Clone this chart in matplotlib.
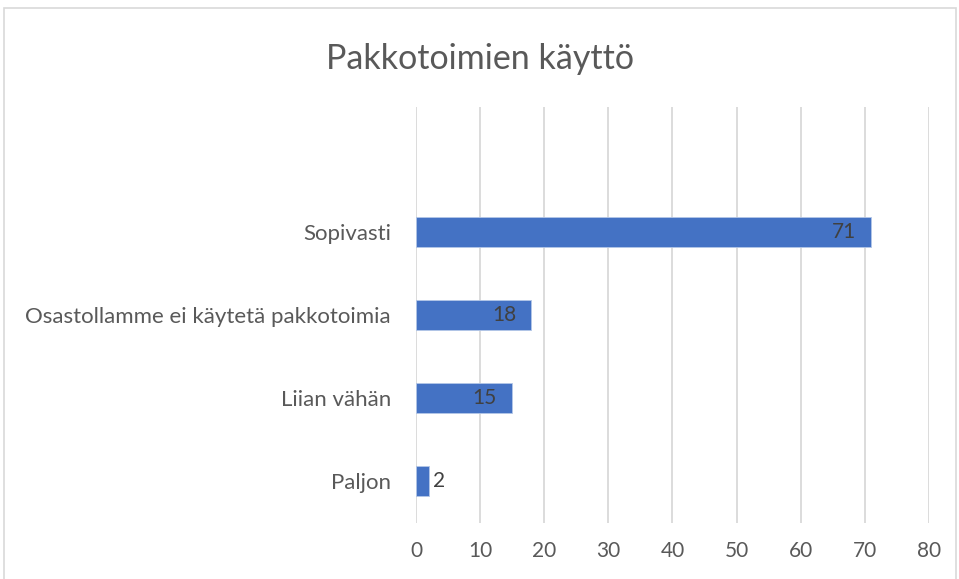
import matplotlib.pyplot as plt
from matplotlib.patches import Rectangle

categories = ["Paljon", "Liian vähän", "Osastollamme ei käytetä pakkotoimia", "Sopivasti"]
values = [2, 15, 18, 71]
x_ticks = [0, 10, 20, 30, 40, 50, 60, 70, 80]

plt.rcParams['font.family'] = ['Lato', 'DejaVu Sans']
txt = '#595959'

fig = plt.figure(figsize=(9.59, 5.79), dpi=100)
fig.patches.append(Rectangle((0.004, -0.01), 0.993, 0.997, transform=fig.transFigure,
                             fill=False, edgecolor='#D9D9D9', linewidth=1.2))
ax = fig.add_axes([0.4338, 0.0967, 0.5349, 0.7185])

ypos = list(range(len(categories)))
bars = ax.barh(ypos, values, height=0.36, color='#4472C4', edgecolor='#B4C7E7', linewidth=0.6, zorder=3)

for b, v in zip(bars, values):
    y = b.get_y() + b.get_height() / 2
    if v >= 10:
        ax.annotate(str(v), (v, y), xytext=(-11, 0), textcoords='offset points',
                    ha='right', va='center', fontsize=15, color='#404040', zorder=4)
    else:
        ax.annotate(str(v), (v, y), xytext=(3, 0), textcoords='offset points',
                    ha='left', va='center', fontsize=15, color='#404040', zorder=4)

ax.set_xlim(0, 80)
ax.set_ylim(-0.5, 4.5)
ax.set_xticks(x_ticks)
ax.set_yticks(ypos)
ax.set_yticklabels(categories)
ax.tick_params(axis='y', length=0, pad=18, labelsize=16, labelcolor=txt)
ax.tick_params(axis='x', length=0, pad=13, labelsize=15, labelcolor=txt)
ax.grid(axis='x', color='#D9D9D9', linewidth=1.3, zorder=0)
for s in ax.spines.values():
    s.set_visible(False)

fig.text(0.5, 0.898, "Pakkotoimien käyttö", ha='center', va='center', fontsize=24.5, color=txt)

fig.savefig('out.png', dpi=100)
